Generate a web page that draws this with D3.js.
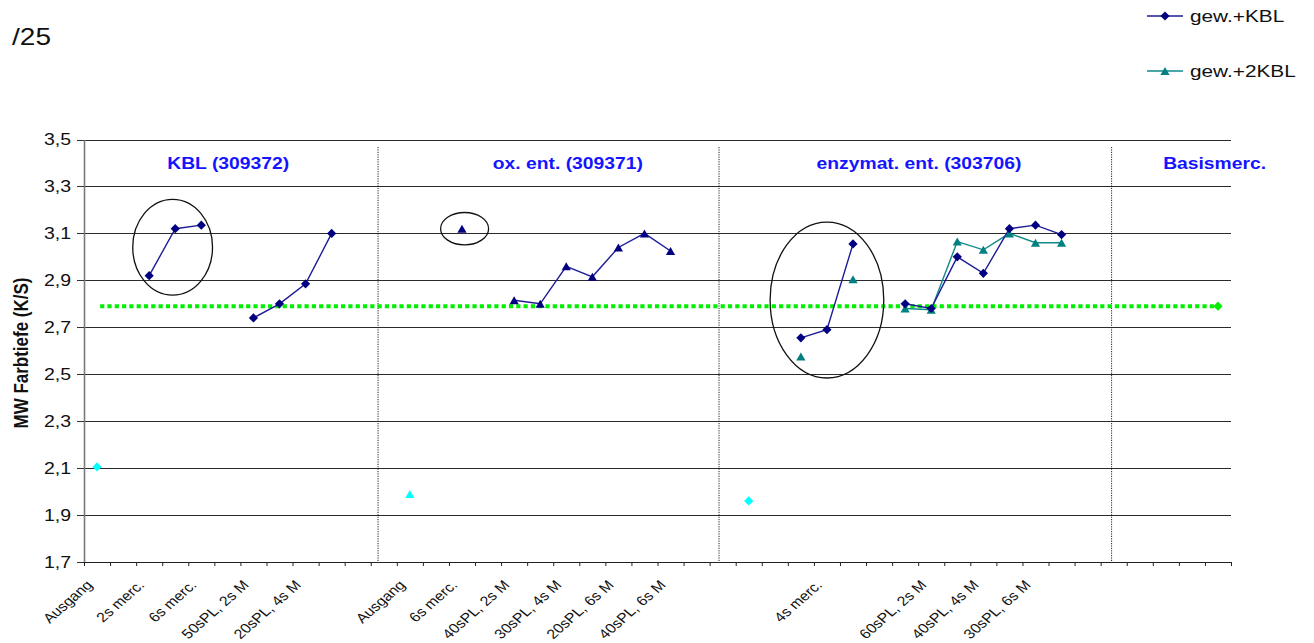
<!DOCTYPE html>
<html>
<head>
<meta charset="utf-8">
<script src="https://cdn.jsdelivr.net/npm/d3@7"></script>
<style>
  body { margin: 0; background: #fff; }
  svg { display: block; font-family: "Liberation Sans", Arial, sans-serif; }
</style>
</head>
<body>
<svg id="chart" width="1314" height="643"></svg>
<script>
// ---- data -------------------------------------------------------------
// 44 categories; only every second one carries a label on the axis
const categories = [
  "Ausgang", "", "2s merc.", "", "6s merc.", "", "50sPL, 2s M", "", "20sPL, 4s M", "", "", "",
  "Ausgang", "", "6s merc.", "", "40sPL, 2s M", "", "30sPL, 4s M", "", "20sPL, 6s M", "", "40sPL, 6s M", "",
  "", "", "", "", "4s merc.", "", "", "", "60sPL, 2s M", "", "40sPL, 4s M", "", "30sPL, 6s M", "",
  "", "", "", "", "", ""
];

const N = null;
// gew.+KBL (navy diamonds)
const kblValues = [
  N, N, 2.92, 3.12, 3.135, N, 2.74, 2.80, 2.885, 3.10, N, N,
  N, N, N, N, N, N, N, N, N, N, N, N,
  N, N, N, 2.655, 2.69, 3.055, N, 2.80, 2.78, 3.00, 2.93, 3.12,
  3.135, 3.095, N, N, N, N, N, N
];
// gew.+2KBL (teal triangles)
const kbl2Values = [
  N, N, N, N, N, N, N, N, N, N, N, N,
  N, N, N, N, N, N, N, N, N, N, N, N,
  N, N, N, 2.575, N, 2.905, N, 2.78, 2.775, 3.065, 3.03, 3.10,
  3.06, 3.06, N, N, N, N, N, N
];
// ox. ent. series (navy triangles)
const oxValues = [
  N, N, N, N, N, N, N, N, N, N, N, N,
  N, N, 3.12, N, 2.815, 2.80, 2.96, 2.915, 3.04, 3.10, 3.025, N,
  N, N, N, N, N, N, N, N, N, N, N, N,
  N, N, N, N, N, N, N, N
];
// starting material (cyan)
const ausgangValues = [
  2.105, N, N, N, N, N, N, N, N, N, N, N,
  1.99, N, N, N, N, N, N, N, N, N, N, N,
  N, 1.96, N, N, N, N, N, N, N, N, N, N,
  N, N, N, N, N, N, N, N
];
const ausgangShapes = { 0: "diamond", 12: "triangle", 25: "diamond" };
// base mercerisation level (green)
const basisValues = [
  N, N, N, N, N, N, N, N, N, N, N, N,
  N, N, N, N, N, N, N, N, N, N, N, N,
  N, N, N, N, N, N, N, N, N, N, N, N,
  N, N, N, N, N, N, N, 2.79
];
const basisLevel = 2.79;

const yTicks = [1.7, 1.9, 2.1, 2.3, 2.5, 2.7, 2.9, 3.1, 3.3, 3.5];

const groupTitles = [
  { label: "KBL (309372)", at: 5.53 },
  { label: "ox. ent. (309371)", at: 18.56 },
  { label: "enzymat. ent. (303706)", at: 32.03 },
  { label: "Basismerc.", at: 43.37 }
];
const groupDividers = [11.28, 24.36, 39.42];

// highlighted groups: centre (category, value) and half extents
const highlights = [
  { cat: 2.9, value: 3.041, catHalf: 1.53, valueHalf: 0.204 },
  { cat: 14.1, value: 3.12, catHalf: 0.92, valueHalf: 0.069 },
  { cat: 28.0, value: 2.816, catHalf: 2.18, valueHalf: 0.332 }
];

const legendItems = [
  { name: "gew.+KBL", color: "#000080", line: "#1c1c96", shape: "diamond" },
  { name: "gew.+2KBL", color: "#008080", line: "#0f8a8a", shape: "triangle" }
];

// ---- layout -----------------------------------------------------------
const svg = d3.select("#chart");
const plot = { left: 84, right: 1231, top: 139.5, bottom: 562 };

const x = d3.scaleBand().domain(d3.range(categories.length)).range([plot.left, plot.right]);
const cx = i => x(i) + x.bandwidth() / 2;
const xEdge = d3.scaleLinear().domain([0, categories.length]).range([plot.left, plot.right]);
const y = d3.scaleLinear().domain([1.7, 3.5]).range([plot.bottom, plot.top]);
const fmt = v => d3.format(".1f")(v).replace(".", ",");

const shapes = {
  diamond: "M0,-4.6L4.6,0L0,4.6L-4.6,0Z",
  triangle: "M0,-4L4.6,4L-4.6,4Z"
};

// horizontally widened text
function wideText(sel, sx, rot) {
  return sel.attr("transform", d => `translate(${d.tx},${d.ty}) scale(${sx},1)` + (rot ? ` rotate(${rot})` : ""));
}

// ---- gridlines ----------------------------------------------------------
svg.append("g")
  .attr("transform", `translate(${plot.left},0)`)
  .call(d3.axisLeft(y).tickValues(yTicks).tickSize(-(plot.right - plot.left)).tickFormat(""))
  .call(g => g.select(".domain").remove())
  .selectAll("line")
  .attr("stroke", "#2b2b2b")
  .attr("stroke-width", 1)
  .attr("shape-rendering", "crispEdges");

// ---- y axis -------------------------------------------------------------
svg.append("g")
  .attr("transform", `translate(${plot.left},0)`)
  .call(d3.axisLeft(y).tickValues(yTicks).tickSize(7).tickSizeOuter(0).tickFormat(""))
  .call(g => g.select(".domain").attr("stroke", "#7a7a7a").attr("stroke-width", 1.6))
  .selectAll(".tick line").attr("stroke", "#333").attr("shape-rendering", "crispEdges");

wideText(
  svg.append("g").selectAll("text")
    .data(yTicks.map(v => ({ v, tx: 71, ty: y(v) + 5.6 })))
    .join("text")
    .attr("text-anchor", "end")
    .attr("font-size", 16)
    .attr("fill", "#111")
    .text(d => fmt(d.v)),
  1.22
);

// y axis title
wideText(
  svg.append("g").selectAll("text")
    .data([{ tx: 27.5, ty: 353 }])
    .join("text")
    .attr("text-anchor", "middle")
    .attr("font-size", 17)
    .attr("font-weight", "bold")
    .attr("fill", "#111")
    .text("MW Farbtiefe (K/S)"),
  1.2, -90
);

// ---- x axis -------------------------------------------------------------
svg.append("g")
  .attr("transform", `translate(0,${plot.bottom})`)
  .call(d3.axisBottom(xEdge).tickValues(d3.range(categories.length + 1)).tickSize(4).tickSizeOuter(0).tickFormat(""))
  .call(g => g.select(".domain").attr("stroke", "#222"))
  .selectAll(".tick line").attr("stroke", "#222");

wideText(
  svg.append("g").selectAll("text")
    .data(categories.map((c, i) => ({ c, i })).filter(d => d.i % 2 === 0 && d.c)
      .map(d => ({ ...d, tx: cx(d.i) - 12, ty: plot.bottom + 17 })))
    .join("text")
    .attr("text-anchor", "end")
    .attr("dy", "0.72em")
    .attr("font-size", 13.5)
    .attr("fill", "#111")
    .text(d => d.c),
  1.18, -46
);

// ---- group dividers -----------------------------------------------------
svg.append("g").selectAll("line")
  .data(groupDividers)
  .join("line")
  .attr("x1", d => xEdge(d)).attr("x2", d => xEdge(d))
  .attr("y1", 147).attr("y2", plot.bottom)
  .attr("stroke", "#222")
  .attr("stroke-width", 1)
  .attr("stroke-dasharray", "1.2,1.2");

// group titles
wideText(
  svg.append("g").selectAll("text")
    .data(groupTitles.map(d => ({ ...d, tx: xEdge(d.at), ty: 169 })))
    .join("text")
    .attr("text-anchor", "middle")
    .attr("font-size", 16.5)
    .attr("font-weight", "bold")
    .attr("fill", "#1414ff")
    .text(d => d.label),
  1.17
);

// ---- base level reference ----------------------------------------------
svg.append("line")
  .attr("x1", cx(0)).attr("x2", cx(categories.length - 1))
  .attr("y1", y(basisLevel)).attr("y2", y(basisLevel))
  .attr("stroke", "#00ee00")
  .attr("stroke-width", 4)
  .attr("stroke-dasharray", "4.2,3.1")
  .attr("stroke-dashoffset", 4.2);

// ---- highlight ellipses -------------------------------------------------
svg.append("g").selectAll("ellipse")
  .data(highlights)
  .join("ellipse")
  .attr("cx", d => xEdge(d.cat + 0.5))
  .attr("cy", d => y(d.value))
  .attr("rx", d => xEdge(d.catHalf) - xEdge(0))
  .attr("ry", d => y(0) - y(d.valueHalf))
  .attr("fill", "none")
  .attr("stroke", "#111")
  .attr("stroke-width", 1.3);

// ---- series -------------------------------------------------------------
const toPts = arr => arr.map((v, i) => ({ i, v }));
const line = d3.line().defined(d => d.v != null).x(d => cx(d.i)).y(d => y(d.v));

const series = [
  { values: kbl2Values, line: "#0f8a8a", color: "#008080", shape: "triangle" },
  { values: kblValues, line: "#1c1c96", color: "#000080", shape: "diamond" },
  { values: oxValues, line: "#1c1c96", color: "#000080", shape: "triangle" }
];

series.forEach(s => {
  svg.append("path")
    .datum(toPts(s.values))
    .attr("d", line)
    .attr("fill", "none")
    .attr("stroke", s.line)
    .attr("stroke-width", 1.4);
});
series.forEach(s => {
  svg.append("g").selectAll("path")
    .data(toPts(s.values).filter(d => d.v != null))
    .join("path")
    .attr("d", shapes[s.shape])
    .attr("transform", d => `translate(${cx(d.i)},${y(d.v)})`)
    .attr("fill", s.color);
});

// starting material points
svg.append("g").selectAll("path")
  .data(toPts(ausgangValues).filter(d => d.v != null))
  .join("path")
  .attr("d", d => shapes[ausgangShapes[d.i]])
  .attr("transform", d => `translate(${cx(d.i)},${y(d.v)})`)
  .attr("fill", "#00ffff");

// base level marker
svg.append("g").selectAll("path")
  .data(toPts(basisValues).filter(d => d.v != null))
  .join("path")
  .attr("d", shapes.diamond)
  .attr("transform", d => `translate(${cx(d.i)},${y(d.v)})`)
  .attr("fill", "#00ee00");

// ---- header -------------------------------------------------------------
wideText(
  svg.append("g").selectAll("text")
    .data([{ tx: 12, ty: 45 }])
    .join("text")
    .attr("font-size", 23)
    .attr("fill", "#111")
    .text("/25"),
  1.22
);

// ---- legend -------------------------------------------------------------
const leg = svg.append("g").selectAll("g")
  .data(legendItems.map((d, k) => ({ ...d, ly: 16 + k * 55 })))
  .join("g");
leg.append("line")
  .attr("x1", 1147).attr("x2", 1183)
  .attr("y1", d => d.ly).attr("y2", d => d.ly)
  .attr("stroke", d => d.line).attr("stroke-width", 1.4);
leg.append("path")
  .attr("d", d => shapes[d.shape])
  .attr("transform", d => `translate(1165,${d.ly})`)
  .attr("fill", d => d.color);
wideText(
  leg.append("text")
    .datum(d => ({ ...d, tx: 1190, ty: d.ly + 6 }))
    .attr("font-size", 16)
    .attr("fill", "#111")
    .text(d => d.name),
  1.3
);
</script>
</body>
</html>
